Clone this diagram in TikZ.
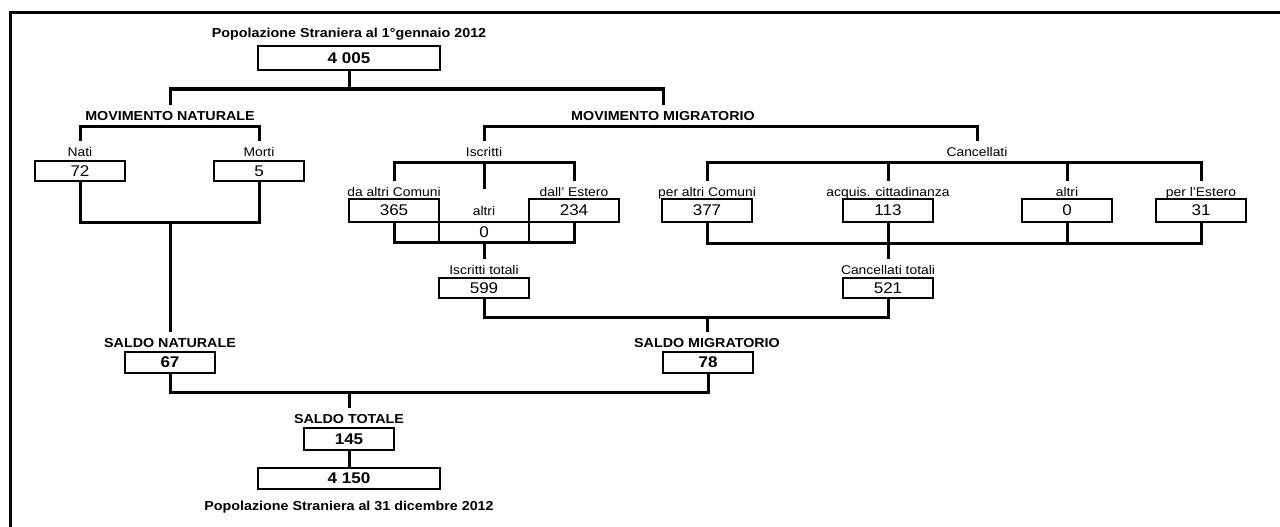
\documentclass[tikz,border=0pt]{standalone}
\usepackage{fontspec}
\setmainfont{Liberation Sans}[FakeStretch=1.1]
\usetikzlibrary{positioning}
\pgfkeys{tikz/numbox/.style={draw,line width=2pt,fill=white,minimum width=90pt,minimum height=20pt,inner sep=0pt,font=\fontsize{15.5}{17}\selectfont}}
\pgfkeys{tikz/numb/.style={numbox,font=\fontsize{15.5}{17}\selectfont\bfseries}}
\pgfkeys{tikz/bignum/.style={numb,minimum width=182pt,minimum height=24pt}}
\pgfkeys{tikz/lbl/.style={inner xsep=2pt,inner ysep=6pt,text height=9pt,text depth=0pt,font=\fontsize{12.6}{14}\selectfont}}
\pgfkeys{tikz/hd/.style={lbl,font=\fontsize{13}{15}\selectfont\bfseries}}
\pgfkeys{tikz/conn/.style={line width=3pt}}
\begin{document}
\begin{tikzpicture}[x=1pt,y=-1pt]
\useasboundingbox (0,0) rectangle (1280,527);
\draw[line width=3pt] (10,540) -- (10,13) -- (1295,13);

\node[hd] (t1) at (349,33) {Popolazione Straniera al 1°gennaio 2012};
\node[bignum] (p0) at (349,58.5) {4 005};

\node[hd] (mn) at (170,116) {MOVIMENTO NATURALE};
\node[hd] (mm) at (663,116) {MOVIMENTO MIGRATORIO};

\node[lbl] (nati) at (80,151.5) {Nati};
\node[lbl] (morti) at (259,151.5) {Morti};
\node[lbl] (iscr) at (484,151.5) {Iscritti};
\node[lbl] (canc) at (977,151.5) {Cancellati};
\node[numbox] (n72) at (80,171) {72};
\node[numbox] (n5) at (259,171) {5};

\node[lbl] (ldac) at (394,192) {da altri Comuni};
\node[lbl] (lde) at (574,192) {dall' Estero};
\node[lbl] (lai) at (484,211) {altri};
\node[lbl] (lpac) at (707,192) {per altri Comuni};
\node[lbl] (lacq) at (888,192) {acquis. cittadinanza};
\node[lbl] (lac) at (1067,192) {altri};
\node[lbl] (lpe) at (1201,192) {per l'Estero};

\node[numbox,minimum height=23pt] (n365) at (394,210.5) {365};
\node[numbox,minimum height=23pt] (n234) at (574,210.5) {234};
\node[numbox] (n0i) at (484,232) {0};
\node[numbox,minimum height=23pt] (n377) at (707,210.5) {377};
\node[numbox,minimum height=23pt] (n113) at (888,210.5) {113};
\node[numbox,minimum height=23pt] (n0c) at (1067,210.5) {0};
\node[numbox,minimum height=23pt] (n31) at (1201,210.5) {31};

\node[lbl] (lit) at (484,270) {Iscritti totali};
\node[numbox] (n599) at (484,288) {599};
\node[lbl] (lct) at (888,270) {Cancellati totali};
\node[numbox] (n521) at (888,288) {521};

\node[hd] (sn) at (170,343) {SALDO NATURALE};
\node[numb,minimum height=21pt] (n67) at (170,362.5) {67};
\node[hd] (sm) at (707,343) {SALDO MIGRATORIO};
\node[numb,minimum height=21pt] (n78) at (708,362.5) {78};

\node[hd] (st) at (349,419) {SALDO TOTALE};
\node[numb,minimum height=22pt] (n145) at (349,439) {145};
\node[bignum,minimum height=21pt] (p1) at (349,478.5) {4 150};
\node[hd] (t2) at (349,506) {Popolazione Straniera al 31 dicembre 2012};

\coordinate (j0) at (349,89);
\draw[conn] (p0.south) -- (j0);
\draw[conn] (mn.north) |- (j0) -| (mm.north);
\draw[conn] (nati.north) |- (mn.south) -| (morti.north);
\draw[conn] (iscr.north) |- (mm.south) -| (canc.north);

\draw[conn] (ldac.north) |- (iscr.south) -| (lde.north);
\draw[conn,shorten >=11pt] (iscr.south) -- (lai.north);
\draw[conn] (lpac.north) |- (canc.south) -| (lpe.north);
\draw[conn] (lacq.north |- canc.south) -- (lacq.north);
\draw[conn] (lac.north |- canc.south) -- (lac.north);

\coordinate (jn) at (170,222);
\draw[conn] (n72.south) |- (jn) -| (n5.south);
\draw[conn] (jn) -- (sn.north);

\coordinate (ji) at (484,242);
\draw[conn] (n365.south) |- (ji) -| (n234.south);
\draw[conn] (ji) -- (lit.north);

\coordinate (jc) at (888,243);
\draw[conn] (n377.south) |- (jc) -| (n31.south);
\draw[conn] (n113.south) -- (jc) -- (lct.north);
\draw[conn] (n0c.south) -- (n0c.south |- jc);

\coordinate (jm) at (707,317);
\draw[conn] (n599.south) |- (jm) -| (n521.south);
\draw[conn] (jm) -- (sm.north);

\coordinate (jt) at (349,392);
\draw[conn] (n67.south) |- (jt) -| (n78.south);
\draw[conn] (jt) -- (st.north);
\draw[conn] (n145.south) -- (p1.north);
\end{tikzpicture}
\end{document}
